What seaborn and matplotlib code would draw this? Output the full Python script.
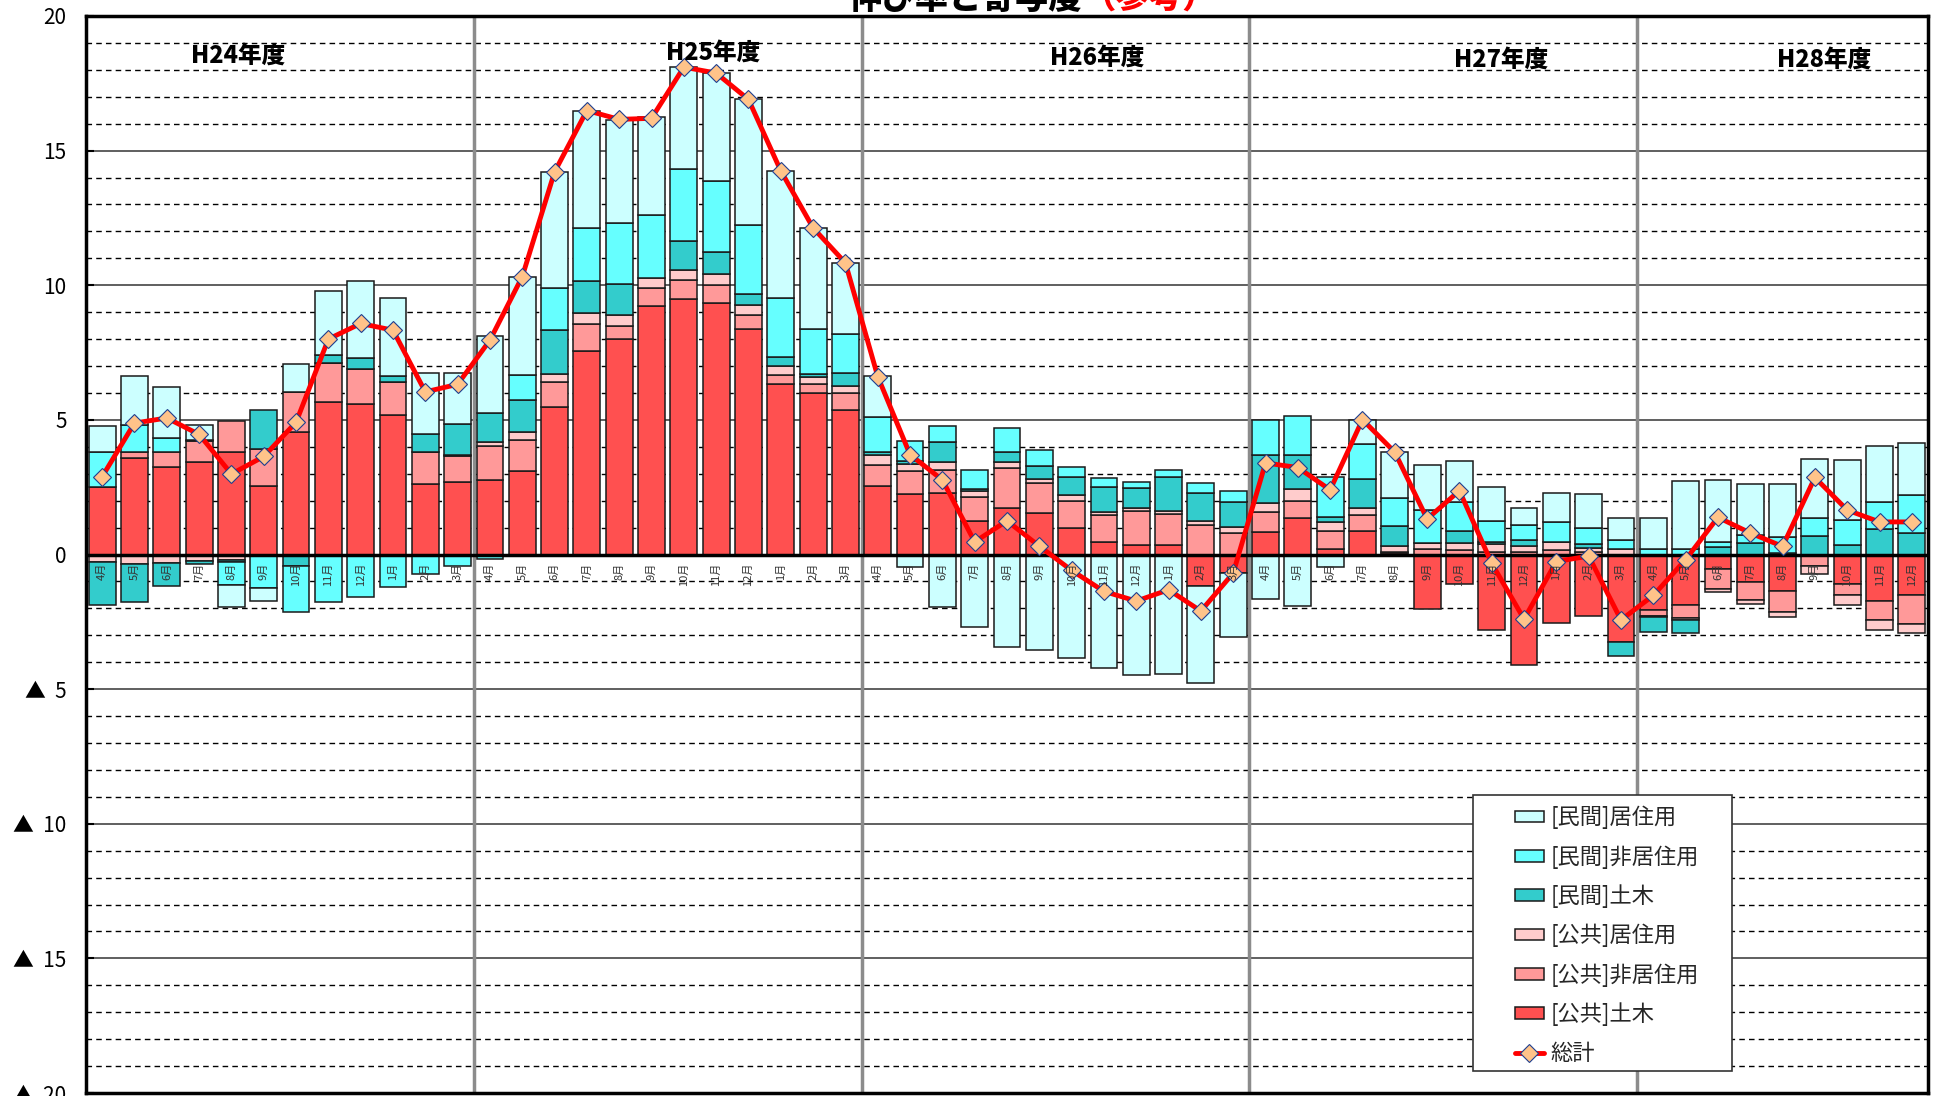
import numpy as np
import pandas as pd
import matplotlib
matplotlib.use('Agg')
import matplotlib.pyplot as plt
import seaborn as sns
from matplotlib.patches import Patch, Rectangle
from matplotlib.lines import Line2D
from matplotlib.ticker import MultipleLocator

# ---- data ----
fy_months = ['4月', '5月', '6月', '7月', '8月', '9月', '10月', '11月', '12月', '1月', '2月', '3月']
months = fy_months * 4 + fy_months[:9]

kokyo_doboku = [2.52, 3.58, 3.25, 3.42, 3.81, 2.56, 4.56, 5.68, 5.58, 5.19, 2.63, 2.69,
                2.76, 3.10, 5.46, 7.55, 8.00, 9.22, 9.50, 9.35, 8.36, 6.34, 5.99, 5.36,
                2.53, 2.24, 2.28, 1.26, 1.73, 1.53, 0.98, 0.48, 0.37, 0.35, -1.16, -0.68,
                0.85, 1.35, 0.19, 0.86, 0.05, -2.01, -1.11, -2.81, -4.11, -2.54, -2.30, -3.25,
                -2.07, -1.86, -0.54, -1.01, -1.37, -0.05, -1.11, -1.73, -1.52]
kokyo_hikyoju = [0.00, 0.23, 0.54, 0.80, 1.14, 1.36, 1.48, 1.42, 1.32, 1.20, 1.16, 0.95,
                 1.27, 1.16, 0.95, 1.01, 0.50, 0.67, 0.69, 0.66, 0.55, 0.33, 0.34, 0.64,
                 0.81, 0.86, 0.86, 0.86, 1.48, 1.14, 1.02, 0.99, 1.25, 1.17, 1.11, 0.80,
                 0.73, 0.64, 0.67, 0.59, 0.05, 0.19, 0.15, 0.09, 0.10, 0.15, 0.11, 0.00,
                 -0.20, -0.48, -0.73, -0.69, -0.77, -0.36, -0.38, -0.69, -1.06]
kokyo_kyoju = [-0.26, -0.35, -0.33, -0.23, -0.19, -0.05, 0.00, 0.00, 0.00, 0.00, 0.00, 0.07,
               0.13, 0.28, 0.29, 0.41, 0.41, 0.38, 0.38, 0.40, 0.36, 0.33, 0.28, 0.25,
               0.36, 0.27, 0.30, 0.22, 0.22, 0.14, 0.21, 0.10, 0.09, 0.09, 0.14, 0.23,
               0.33, 0.43, 0.33, 0.27, 0.21, 0.25, 0.27, 0.31, 0.20, 0.32, 0.14, 0.19,
               -0.05, -0.10, -0.11, -0.12, -0.19, -0.31, -0.37, -0.40, -0.33]
minkan_doboku = [-1.63, -1.42, -0.84, -0.14, -0.07, 1.46, -0.44, 0.30, 0.40, 0.25, 0.70, 1.15,
                 1.10, 1.18, 1.64, 1.19, 1.14, -0.07, 1.08, 0.82, 0.41, 0.34, 0.08, 0.48,
                 0.11, 0.11, 0.72, 0.08, 0.39, 0.48, 0.65, 0.95, 0.77, 1.28, 1.02, 0.91,
                 1.79, 1.27, 0.20, 1.07, 0.75, 0.00, 0.44, 0.07, 0.25, 0.00, 0.15, -0.53,
                 -0.56, -0.46, 0.27, 0.43, 0.05, 0.70, 0.37, 0.94, 0.79]
minkan_hikyoju = [1.30, 0.99, 0.54, 0.05, -0.86, -1.21, -1.70, -1.78, -1.59, -1.21, -0.73, -0.42,
                  -0.17, 0.94, 1.57, 1.98, 2.25, 2.33, 2.66, 2.63, 2.56, 2.20, 1.68, 1.45,
                  1.31, 0.72, 0.61, 0.73, 0.86, 0.59, 0.40, 0.31, 0.23, 0.25, 0.38, 0.40,
                  1.31, 1.46, 1.47, 1.33, 1.05, 1.21, 1.10, 0.78, 0.56, 0.72, 0.58, 0.36,
                  0.20, 0.21, 0.20, 0.30, 0.59, 0.64, 0.91, 1.02, 1.42]
minkan_kyoju = [0.95, 1.84, 1.90, 0.53, -0.83, -0.46, 1.04, 2.37, 2.86, 2.90, 2.25, 1.89,
                2.87, 3.66, 4.29, 4.35, 3.84, 3.65, 3.78, 4.02, 4.68, 4.71, 3.76, 2.65,
                1.50, -0.48, -1.96, -2.70, -3.43, -3.55, -3.86, -4.20, -4.46, -4.43, -3.62, -2.40,
                -1.65, -1.93, -0.47, 0.86, 1.69, 1.68, 1.53, 1.25, 0.60, 1.09, 1.27, 0.80,
                1.15, 2.51, 2.30, 1.89, 1.99, 2.22, 2.23, 2.06, 1.94]
total = [2.89, 4.88, 5.07, 4.46, 2.99, 3.64, 4.91, 8.00, 8.58, 8.33, 6.04, 6.32,
         7.96, 10.32, 14.21, 16.49, 16.16, 16.20, 18.10, 17.88, 16.90, 14.25, 12.13, 10.83,
         6.61, 3.71, 2.77, 0.47, 1.25, 0.31, -0.59, -1.37, -1.73, -1.31, -2.10, -0.69,
         3.40, 3.23, 2.40, 5.01, 3.80, 1.32, 2.37, -0.33, -2.40, -0.26, -0.06, -2.43,
         -1.52, -0.19, 1.38, 0.80, 0.30, 2.86, 1.65, 1.21, 1.21]

year_labels = ['H24年度', 'H25年度', 'H26年度', 'H27年度', 'H28年度']
year_label_x = [4.2, 18.9, 30.8, 43.3, 53.3]
year_label_y = [18.55, 18.65, 18.45, 18.4, 18.4]

ytick_vals = [-20, -15, -10, -5, 0, 5, 10, 15, 20]
ytick_labels = ['▲  20', '▲  15', '▲  10', '▲  5', '0', '5', '10', '15', '20']

# stacking order (bottom -> top), same as Excel series order
series = [
    ('[公共]土木', kokyo_doboku, '#FF5050'),
    ('[公共]非居住用', kokyo_hikyoju, '#FF9999'),
    ('[公共]居住用', kokyo_kyoju, '#FFCCCC'),
    ('[民間]土木', minkan_doboku, '#33CCCC'),
    ('[民間]非居住用', minkan_hikyoju, '#66FFFF'),
    ('[民間]居住用', minkan_kyoju, '#CCFFFF'),
]

sns.set_theme(style='white')
plt.rcParams['font.family'] = ['Noto Sans CJK JP', 'DejaVu Sans']

fig = plt.figure(figsize=(19.4, 10.96), dpi=100)
ax = fig.add_axes([86 / 1940, 3 / 1096, 1842 / 1940, 1077 / 1096])

x = np.arange(len(months))
pos_bottom = np.zeros(len(x))
neg_bottom = np.zeros(len(x))
for name, vals, color in series:
    v = np.array(vals)
    bottom = np.where(v >= 0, pos_bottom, neg_bottom)
    ax.bar(x, v, width=0.83, bottom=bottom, color=color,
           edgecolor='#1A1A1A', linewidth=1.1, zorder=3)
    pos_bottom += np.where(v > 0, v, 0)
    neg_bottom += np.where(v < 0, v, 0)

df = pd.DataFrame({'x': x, 'total': total})
sns.lineplot(data=df, x='x', y='total', ax=ax, color='#FF0000', linewidth=3.5,
             marker='D', markersize=9.5, markerfacecolor='#FFC389',
             markeredgecolor='#1F3F8F', markeredgewidth=0.8, zorder=6, legend=False)

# axes styling
ax.set_xlim(-0.5, len(x) - 0.5)
ax.set_ylim(-20, 20)
ax.set_xticks([])
ax.set_yticks(ytick_vals)
ax.set_yticklabels(ytick_labels, fontsize=15)
ax.yaxis.set_minor_locator(MultipleLocator(1))
ax.tick_params(axis='y', which='major', direction='in', length=6, width=1.5,
               left=True, pad=14, colors='black')
ax.tick_params(axis='y', which='minor', length=0)
ax.set_axisbelow(True)
ax.grid(which='major', axis='y', color='#444444', linewidth=1.2, linestyle='-')
ax.grid(which='minor', axis='y', color='black', linewidth=1.0, linestyle=(0, (4, 3)))
for sp in ax.spines.values():
    sp.set_color('black')
    sp.set_linewidth(2.5)
ax.set_xlabel('')
ax.set_ylabel('')

ax.axhline(0, color='black', linewidth=2.5, zorder=4)
for sep in [11.5, 23.5, 35.5, 47.5]:
    ax.axvline(sep, color='#8C8C8C', linewidth=2.5, zorder=2.5)

for i, m in enumerate(months):
    ax.text(i, -0.3, m, rotation=90, ha='center', va='top', fontsize=8,
            color='#333333', zorder=7)

for lab, lx, ly in zip(year_labels, year_label_x, year_label_y):
    ax.text(lx, ly, lab, ha='center', va='center', fontsize=17,
            fontweight='heavy', color='black', zorder=7)

# title, cut at the top edge like the source
fig.text(1082 / 1940, 1 - 9 / 1096, '伸び率と寄与度', ha='right', va='baseline',
         fontsize=24, fontweight='heavy', color='black')
fig.text(1082 / 1940, 1 - 9 / 1096, '（参考）', ha='left', va='baseline',
         fontsize=24, fontweight='heavy', color='#FF0000')

# legend with a manual frame
frame = Rectangle((0.753, 0.0204), 0.1406, 0.2563, transform=ax.transAxes,
                  facecolor='white', edgecolor='#333333', linewidth=1.2, zorder=8)
ax.add_patch(frame)
handles = [Patch(facecolor=c, edgecolor='#1A1A1A', linewidth=1.1, label=n)
           for n, _, c in series[::-1]]
handles.append(Line2D([], [], color='#FF0000', linewidth=3.5, marker='D',
                      markersize=9.5, markerfacecolor='#FFC389',
                      markeredgecolor='#1F3F8F', markeredgewidth=0.8, label='総計'))
leg = ax.legend(handles=handles, loc='upper left', bbox_to_anchor=(0.7758, 0.2665),
                frameon=False, fontsize=16, handlelength=1.3, handleheight=0.45,
                handletextpad=0.3, labelspacing=0.71, borderpad=0, borderaxespad=0)
leg.set_zorder(9)

fig.savefig('out.png', dpi=100)
